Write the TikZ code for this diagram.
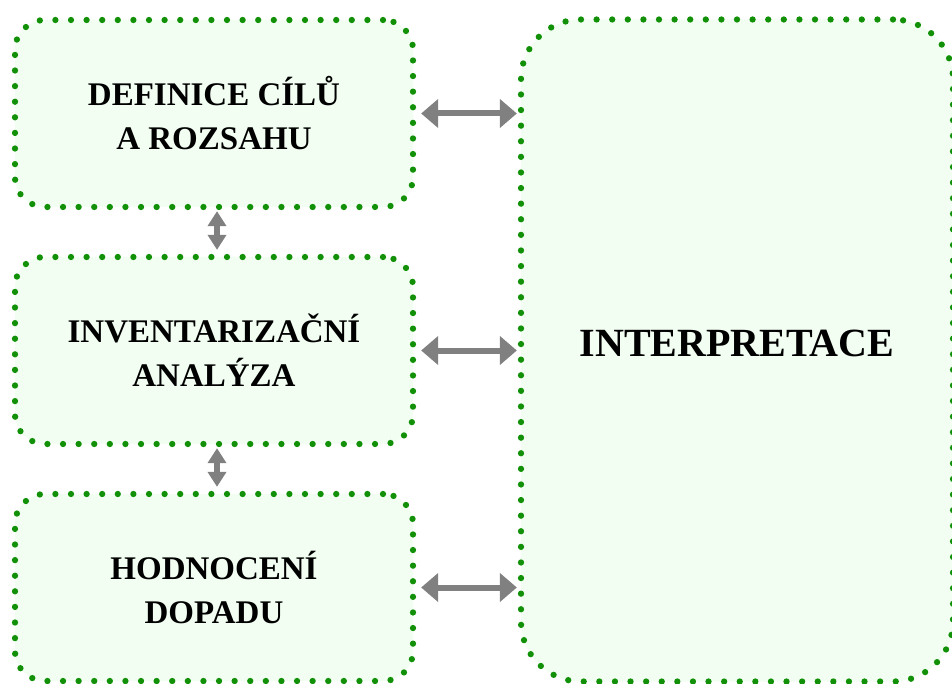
\documentclass[tikz,border=0pt]{standalone}
\usepackage{fontspec}
\setmainfont{Liberation Serif}
\usetikzlibrary{arrows.meta,positioning}
\definecolor{dotgreen}{RGB}{18,145,8}
\definecolor{boxfill}{RGB}{242,254,242}
\definecolor{arrowgray}{RGB}{128,128,128}

\begin{document}
\begin{tikzpicture}[x=1pt, y=-1pt, node distance=237pt,
                    every edge/.style={draw,solid},
                    stage/.style={draw=dotgreen, fill=boxfill, line width=6.3pt,
                      dash pattern=on 0pt off 15.6pt, line cap=round,
                      rounded corners=30pt, minimum width=398pt, minimum height=187pt,
                      align=center, font=\bfseries\fontsize{33}{44}\selectfont},
                    bigstage/.style={stage, rounded corners=60pt, minimum width=432pt,
                      minimum height=662pt},
                    wide/.style={<->, draw=arrowgray, line width=6pt,
                      >={Triangle[length=17pt,width=28pt]}, shorten <=5pt, shorten >=1pt},
                    tall/.style={<->, draw=arrowgray, line width=5.5pt,
                      >={Triangle[length=15pt,width=18pt]}, shorten <=1pt, shorten >=4pt}]

\useasboundingbox (0,0) rectangle (952,684);

\node[stage] (def) at (214,113.5) {DEFINICE CÍLŮ\\A ROZSAHU};
\node[stage] (inv) [below of=def] {INVENTARIZAČNÍ\\ANALÝZA};
\node[stage] (hod) [below of=inv] {HODNOCENÍ\\DOPADU};
\node[bigstage] (int) [right=101.7pt of inv] {};
\node[font=\bfseries\fontsize{40}{48}\selectfont] (intlabel) at ([yshift=7pt]int.center) {INTERPRETACE};

\path
(def.east) edge [wide] (def.east -| int.west)
(inv.east) edge [wide] (inv.east -| int.west)
(hod.east) edge [wide] (hod.east -| int.west)
([xshift=3pt]def.south) edge [tall] ([xshift=3pt]inv.north)
([xshift=3pt]inv.south) edge [tall] ([xshift=3pt]hod.north);
\end{tikzpicture}
\end{document}
